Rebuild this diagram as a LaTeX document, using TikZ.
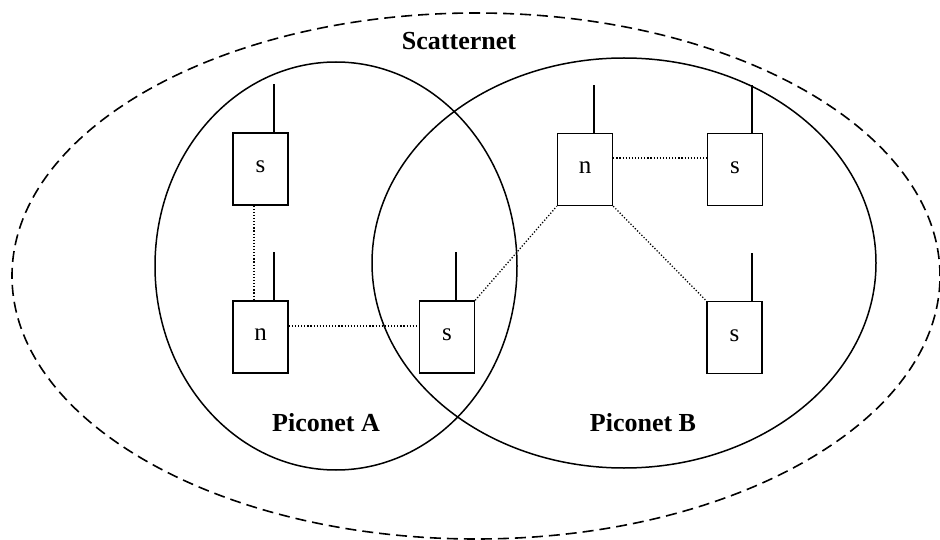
\documentclass[tikz,border=0pt]{standalone}
\usepackage{fontspec}
\setmainfont{Liberation Serif}
\begin{document}
\begin{tikzpicture}[x=1pt,y=-1pt,
  unit/.style={draw,line width=1.4pt,minimum width=55pt,minimum height=72pt,
    inner sep=0pt,font=\fontsize{25}{28}\selectfont},
  aerial/.style={line width=1.4pt},
  link/.style={line width=1.3pt,dash pattern=on 1.2pt off 1.9pt},
  net/.style={line width=1.5pt},
  label/.style={font=\fontsize{26}{30}\selectfont\bfseries}]
\useasboundingbox (0,0) rectangle (940,540);

% scatternet boundary and the two piconets
\draw[line width=1.6pt,dash pattern=on 11pt off 6pt] (476,276) ellipse [x radius=464pt, y radius=263pt];
\draw[net] (336,266) ellipse [x radius=181pt, y radius=204pt];
\draw[net] (624,263) ellipse [x radius=252pt, y radius=205pt];

\node[label] (scat) at (459,41) {Scatternet};
\node[label] (pa) at (326,423) {Piconet A};
\node[label] (pb) at (643,423) {Piconet B};

% devices
\node[unit] (s1) at (260.5,169) {\raisebox{4pt}{s}};
\node[unit] (n1) at (260.5,337) {\raisebox{4pt}{n}};
\node[unit] (s2) at (447,337) {\raisebox{4pt}{s}};
\node[unit] (n2) at (585,169.5) {\raisebox{4pt}{n}};
\node[unit] (s3) at (735,169.5) {\raisebox{4pt}{s}};
\node[unit] (s4) at (734.5,337.5) {\raisebox{4pt}{s}};

% antennas
\draw[aerial] ([xshift=13.5pt]s1.north) -- ++(0,-48);
\draw[aerial] ([xshift=13.5pt]n1.north) -- ++(0,-48);
\draw[aerial] ([xshift=9pt]s2.north) -- ++(0,-48);
\draw[aerial] ([xshift=9pt]n2.north) -- ++(0,-48);
\draw[aerial] ([xshift=17pt]s3.north) -- ++(0,-48);
\draw[aerial] ([xshift=17.5pt]s4.north) -- ++(0,-48);

% radio links
\draw[link] ([xshift=-6.5pt]s1.south) -- ([xshift=-6.5pt]n1.north);
\draw[link] ([yshift=11pt]n1.east) -- ([yshift=11pt]s2.west);
\draw[link] (s2.north east) -- (n2.south west);
\draw[link] ([yshift=11.5pt]n2.east) -- ([yshift=11.5pt]s3.west);
\draw[link] (n2.south east) -- (s4.north west);
\end{tikzpicture}
\end{document}
